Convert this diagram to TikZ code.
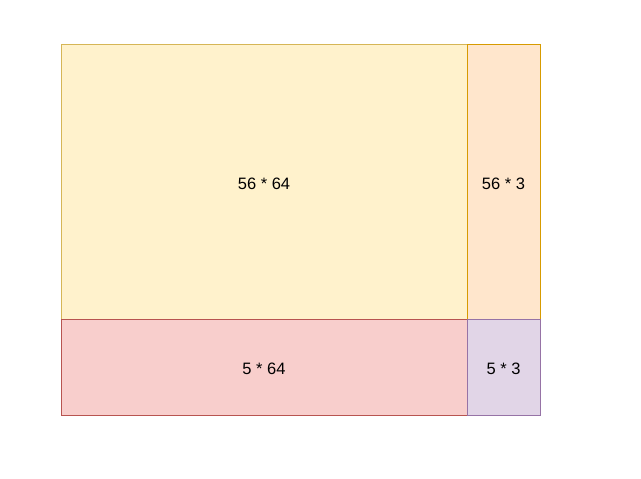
\documentclass[tikz,border=0pt]{standalone}
\usepackage{fontspec}
\setmainfont{Liberation Sans}
\usetikzlibrary{positioning}

\definecolor{yellowfill}{HTML}{FFF2CC}
\definecolor{yellowline}{HTML}{D6B656}
\definecolor{orangefill}{HTML}{FFE6CC}
\definecolor{orangeline}{HTML}{D79B00}
\definecolor{redfill}{HTML}{F8CECC}
\definecolor{redline}{HTML}{B85450}
\definecolor{purplefill}{HTML}{E1D5E7}
\definecolor{purpleline}{HTML}{9673A6}

\begin{document}
\begin{tikzpicture}[
	x=1pt, y=-1pt,
	node distance=0pt,
	% --- styles ---
	block/.style={
		rectangle, draw, line width=1pt, outer sep=0pt, inner sep=0pt,
		text height=15.8pt, text depth=0pt,
		align=center, font=\fontsize{16.5}{19}\selectfont
	},
	yellowblock/.style={block, fill=yellowfill, draw=yellowline},
	orangeblock/.style={block, fill=orangefill, draw=orangeline},
	redblock/.style={block, fill=redfill, draw=redline},
	purpleblock/.style={block, fill=purplefill, draw=purpleline}
	]
	
	\useasboundingbox (0,0) rectangle (641,479);
	
	% big block top left
	\node [yellowblock, minimum width=406pt, minimum height=275pt, anchor=north west] (top_left) at (61,44) {56 * 64};
	
	% right column
	\node [orangeblock, minimum width=73pt, minimum height=275pt, right=of top_left] (top_right) {56 * 3};
	
	% bottom row
	\node [redblock, minimum width=406pt, minimum height=96pt, below=of top_left] (bottom_left) {5 * 64};
	\node [purpleblock, minimum width=73pt, minimum height=96pt, right=of bottom_left] (bottom_right) {5 * 3};
\end{tikzpicture}
\end{document}
